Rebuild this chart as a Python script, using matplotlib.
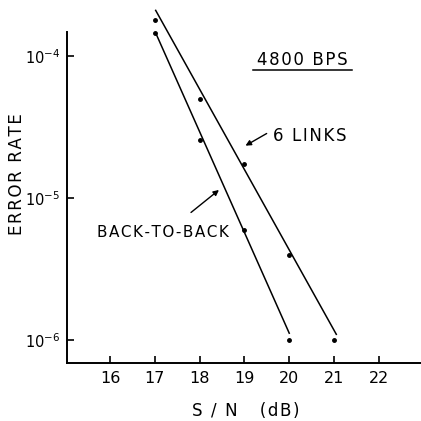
import matplotlib
matplotlib.use('Agg')
import matplotlib.pyplot as plt
from matplotlib.ticker import NullLocator

# measured points (S/N in dB, error rate)
snr_links = [17, 18, 19, 20, 21]
err_links = [1.8e-4, 5.0e-5, 1.75e-5, 4.0e-6, 1.0e-6]
snr_b2b = [17, 18, 19, 20]
err_b2b = [1.45e-4, 2.55e-5, 6.0e-6, 1.0e-6]

# hand-drawn fit lines (end points)
fit_links_x = [17.02, 21.05]
fit_links_y = [2.1e-4, 1.1e-6]
fit_b2b_x = [17.04, 20.0]
fit_b2b_y = [1.41e-4, 1.12e-6]

x_ticks = [16, 17, 18, 19, 20, 21, 22]
y_ticks = [1e-6, 1e-5, 1e-4]
y_tick_labels = [r'$10^{-6}$', r'$10^{-5}$', r'$10^{-4}$']

plt.rcParams['font.family'] = 'DejaVu Sans'
plt.rcParams['mathtext.fontset'] = 'dejavusans'


def spread(s):
    # lettering in the original is widely spaced
    return '\u200a'.join(s)


fig = plt.figure(figsize=(4.21, 4.21), dpi=100)
ax = fig.add_axes([0.159, 0.138, 0.841, 0.786])
ax.set_yscale('log')
ax.set_xlim(15.04, 22.94)
ax.set_ylim(10 ** -6.16, 10 ** -3.83)

for s in ['top', 'right']:
    ax.spines[s].set_visible(False)
for s in ['left', 'bottom']:
    ax.spines[s].set_linewidth(1.4)

ax.set_xticks(x_ticks)
ax.set_xticklabels([str(t) for t in x_ticks], fontsize=11.5)
ax.set_yticks(y_ticks)
ax.set_yticklabels(y_tick_labels, fontsize=10.5)
ax.yaxis.set_minor_locator(NullLocator())
ax.tick_params(direction='in', length=5, width=1.2, pad=6)
ax.tick_params(axis='y', pad=5)

ax.plot(fit_links_x, fit_links_y, color='black', lw=1.1, clip_on=False)
ax.plot(fit_b2b_x, fit_b2b_y, color='black', lw=1.1, clip_on=False)
ax.plot(snr_links, err_links, 'o', color='black', ms=2.5, clip_on=False)
ax.plot(snr_b2b, err_b2b, 'o', color='black', ms=2.5, clip_on=False)

ax.text(20.30, 10 ** -4.03, spread('4800 BPS'), fontsize=12, ha='center', va='center')
ax.plot([19.19, 21.40], [10 ** -4.10, 10 ** -4.10], color='black', lw=1.1)

ax.annotate('', xy=(18.97, 10 ** -4.64), xytext=(19.55, 10 ** -4.535),
            arrowprops=dict(arrowstyle='-|>', color='black', lw=1.0,
                            mutation_scale=8))
ax.text(19.64, 10 ** -4.56, spread('6 LINKS'), fontsize=12, ha='left', va='center')

ax.annotate('', xy=(18.48, 10 ** -4.93), xytext=(17.76, 10 ** -5.113),
            arrowprops=dict(arrowstyle='-|>', color='black', lw=1.0,
                            mutation_scale=8))
ax.text(15.71, 10 ** -5.24, spread('BACK-TO-BACK'), fontsize=11, ha='left', va='center')

fig.text(0.040, 0.587, spread('ERROR RATE'), rotation=90, fontsize=12,
         ha='center', va='center')
fig.text(0.584, 0.024, spread('S / N   (dB)'), fontsize=12, ha='center', va='center')

fig.savefig('out.png', dpi=100)
